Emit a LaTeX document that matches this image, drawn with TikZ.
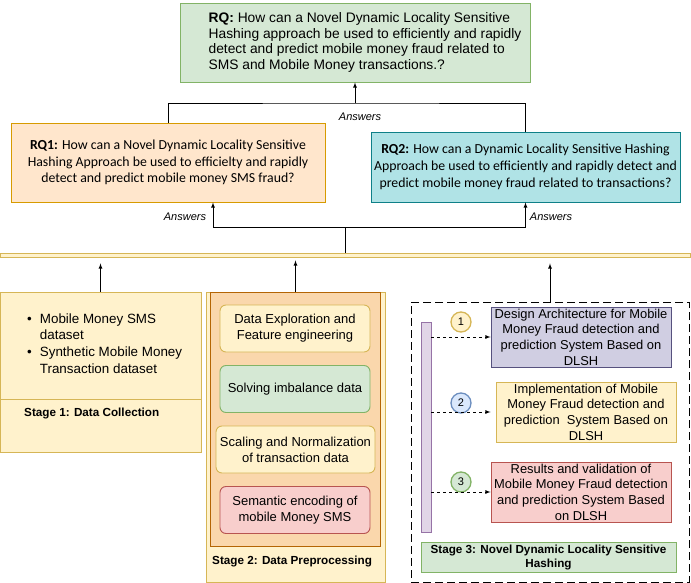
\documentclass[tikz,border=0pt]{standalone}
\usepackage{fontspec}
\setmainfont{Liberation Sans}
\newfontfamily\rqfont{Carlito}
\usepackage{pgf, tikz}
\usetikzlibrary{positioning}
\usetikzlibrary{calc}
\usetikzlibrary{arrows}

\begin{document}
\begin{tikzpicture}[x=1pt,y=-1pt,
  mynode/.style={draw, anchor=center, line width=0.9pt},
  rqnode/.style={mynode, align=center, inner sep=1pt, font=\rqfont\fontsize{13.8}{16.8}\selectfont},
  prenode/.style={mynode, rounded corners=6pt, align=center, minimum width=150, minimum height=47, inner sep=1pt, font=\fontsize{13}{16}\selectfont},
  dlshnode/.style={mynode, align=center, minimum width=180, minimum height=60, inner sep=0pt, font=\fontsize{12.9}{15.6}\selectfont},
  numnode/.style={draw, circle, line width=1.3pt, minimum size=20, inner sep=0pt, font=\fontsize{11}{12}\selectfont},
  stagelabel/.style={anchor=west, inner sep=0pt, font=\bfseries\fontsize{11.7}{14}\selectfont},
  answers/.style={font=\itshape\fontsize{11}{12}\selectfont, inner sep=1pt},
  conn/.style={line width=0.8pt}]

% drawio colour scheme
\definecolor{grn}{HTML}{d5e8d4}
\definecolor{grnd}{HTML}{82b366}
\definecolor{org}{HTML}{ffe6cc}
\definecolor{orgd}{HTML}{d79b00}
\definecolor{cyn}{HTML}{b0e3e6}
\definecolor{cynd}{HTML}{0e8088}
\definecolor{yel}{HTML}{fff2cc}
\definecolor{yeld}{HTML}{d6b656}
\definecolor{org2}{HTML}{fad7ac}
\definecolor{org2d}{HTML}{b46504}
\definecolor{red}{HTML}{f8cecc}
\definecolor{redd}{HTML}{b85450}
\definecolor{pur}{HTML}{e1d5e7}
\definecolor{purd}{HTML}{9673a6}
\definecolor{lav}{HTML}{d0cee2}
\definecolor{lavd}{HTML}{56517e}
\definecolor{blu}{HTML}{dae8fc}
\definecolor{blud}{HTML}{6c8ebf}

\useasboundingbox (0,0) rectangle (691,583);

%% research questions
\node [mynode,fill=grn,draw=grnd,minimum width=350,minimum height=79] at (355,42.5) (rq) {};
\node [align=left,inner sep=0pt,font=\fontsize{13.8}{15.8}\selectfont] at (365,42.5) (rqtext)
  {\textbf{RQ:} How can a Novel Dynamic Locality Sensitive\\Hashing approach be used to efficiently and rapidly\\detect and predict mobile money fraud related to\\SMS and Mobile Money transactions.?};
\node [rqnode,fill=org,draw=orgd,minimum width=314,minimum height=79] at (168,162.5) (rq1)
  {\textbf{RQ1:} How can a Novel Dynamic Locality Sensitive\\Hashing Approach be used to efficielty and rapidly\\detect and predict mobile money SMS fraud?};
\node [rqnode,fill=cyn,draw=cynd,minimum width=309,minimum height=70] at (525.5,167) (rq2)
  {\textbf{RQ2:} How can a Dynamic Locality Sensitive Hashing\\Approach be used to efficiently and rapidly detect and\\predict mobile money fraud related to transactions?};
\coordinate (join) at (355,103);
\draw[conn] (rq1.north) |- (join) -| (rq2.north);
\draw[conn,-latex] (join) -- (rq.south);
\node[answers] at (360,117) (ans0) {Answers};

%% the long bar
\node [mynode,fill=yel,draw=yeld,minimum width=690,minimum height=4,inner sep=0pt] at (345.5,255) (bar) {};
\coordinate (split) at (345,227);
\draw[conn] (bar.north -| split) -- (split);
\draw[conn,-latex] (split) -| ($(rq1.south)+(45,0)$);
\draw[conn,-latex] (split) -| (rq2.south);
\node[answers] at (185,217) (ans1) {Answers};
\node[answers] at (551,217) (ans2) {Answers};

%% stage 1
\node [mynode,fill=yel,draw=yeld,minimum width=201,minimum height=160] at (100.5,372) (s1) {};
\draw[yeld,line width=0.9pt] ($(s1.west)+(0,27)$) -- ($(s1.east)+(0,27)$);
\node [anchor=west,inner sep=0pt,font=\fontsize{13.4}{16.7}\selectfont] at (27,345) (s1list)
  {\begin{tabular}{@{}l@{\hspace{8pt}}l@{}}
   \textbullet & Mobile Money SMS\\
               & dataset\\
   \textbullet & Synthetic Mobile Money\\
               & Transaction dataset
   \end{tabular}};
\node[stagelabel] at (24,413) (s1lab) {Stage 1: Data Collection};

%% stage 2
\node [mynode,fill=yel,draw=yeld,minimum width=179,minimum height=290] at (295.5,437) (s2) {};
\node [mynode,fill=org2,draw=org2d,minimum width=170,minimum height=254] at (295,419) (s2in) {};
\node [prenode,fill=yel,draw=yeld] at (295,328.5) (p1) {Data Exploration and\\Feature engineering};
\node [prenode,fill=grn,draw=grnd] at (295,389) (p2) {Solving imbalance data};
\node [prenode,fill=yel,draw=yeld,minimum width=159] at (295.5,449.5) (p3) {Scaling and Normalization\\of transaction data};
\node [prenode,fill=red,draw=redd] at (295,510) (p4) {Semantic encoding of\\mobile Money SMS};
\node[stagelabel] at (212,561) (s2lab) {Stage 2: Data Preprocessing};

%% stage 3
\node [draw,line width=0.9pt,dash pattern=on 8pt off 4pt,minimum width=278,minimum height=280] at (550,442) (s3) {};
\node [mynode,fill=pur,draw=purd,minimum width=10,minimum height=210,inner sep=0pt] at (426,427) (tl) {};
\node [numnode,fill=yel,draw=yeld] at (461,322) (n1) {1};
\node [numnode,fill=blu,draw=blud] at (461,403) (n2) {2};
\node [numnode,fill=grn,draw=grnd] at (461,482) (n3) {3};
\node [dlshnode,fill=lav,draw=lavd] at (581,337) (d1)
  {Design Architecture for Mobile\\Money Fraud detection and\\prediction System Based on\\DLSH};
\node [dlshnode,fill=yel,draw=yeld] at (586,412) (d2)
  {Implementation of Mobile\\Money Fraud detection and\\prediction\ \ System Based on\\DLSH};
\node [dlshnode,fill=red,draw=redd] at (581,492) (d3)
  {Results and validation of\\Mobile Money Fraud detection\\and prediction System Based\\on DLSH};
\draw[conn,dashed,-latex] (tl.east |- d1.west) -- (d1.west);
\draw[conn,dashed,-latex,shorten >=5pt] (tl.east |- d2.west) -- (d2.west);
\draw[conn,dashed,-latex] (tl.east |- d3.west) -- (d3.west);
\node [mynode,fill=grn,draw=grnd,minimum width=255,minimum height=30,inner sep=0pt,align=center,font=\bfseries\fontsize{11.7}{14}\selectfont] at (548.5,557) (s3lab)
  {Stage 3: Novel Dynamic Locality Sensitive\\Hashing};

%% stages feed the bar
\draw[conn,-latex,shorten >=6pt] (s1.north) -- (s1.north |- bar.south);
\draw[conn,-latex,shorten >=3pt] (s2.north) -- (s2.north |- bar.south);
\draw[conn,-latex,shorten >=6pt] (s3.north) -- (s3.north |- bar.south);
\end{tikzpicture}
\end{document}
